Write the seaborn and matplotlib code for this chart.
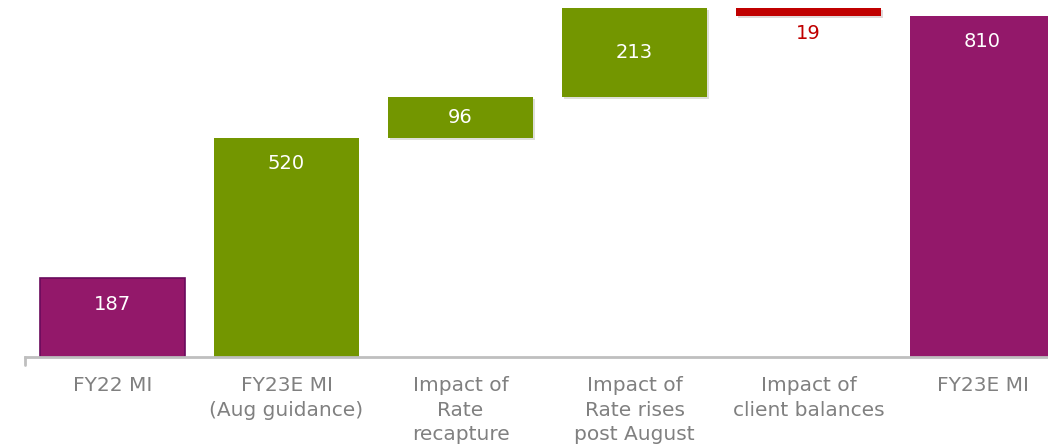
import numpy as np
import pandas as pd
import matplotlib
matplotlib.use("Agg")
import matplotlib.pyplot as plt
import matplotlib.patheffects as pe
import seaborn as sns

# Waterfall steps
categories = ["FY22 MI", "FY23E MI\n(Aug guidance)", "Impact of\nRate\nrecapture",
              "Impact of\nRate rises\npost August", "Impact of\nclient balances", "FY23E MI"]
values = [187, 520, 96, 213, -19, 810]
kinds = ["total", "total", "delta", "delta", "delta", "total"]

PURPLE = "#93186A"
GREEN = "#739600"
RED = "#C00000"
GREY = "#808080"

# Bar bases: totals stand on zero, deltas float on the running sum
bases = []
running = 0
for v, k in zip(values, kinds):
    if k == "total":
        bases.append(0)
        running = v
    else:
        bases.append(running)
        running += v

colors = []
for i, (v, k) in enumerate(zip(values, kinds)):
    if i in (0, len(values) - 1):
        colors.append(PURPLE)
    elif v < 0:
        colors.append(RED)
    else:
        colors.append(GREEN)

df = pd.DataFrame({"step": categories, "value": values})

sns.set_theme(style="white")
plt.rcParams["font.family"] = ["DejaVu Sans"]

fig = plt.figure(figsize=(10.48, 4.48), dpi=100)
ax = fig.add_axes([25 / 1048, 91 / 448, 1023 / 1048, 357 / 448])

sns.barplot(data=df, x="step", y="value", hue="step", palette=colors,
            width=0.833, legend=False, ax=ax, saturation=1)

for i, patch in enumerate(ax.patches[:len(values)]):
    patch.set_y(bases[i])
    patch.set_height(values[i])
    patch.set_linewidth(0)
    if kinds[i] == "delta":
        patch.set_path_effects([pe.SimplePatchShadow(offset=(1.2, -1.5), alpha=0.15, rho=0.3),
                                pe.Normal()])
    if i == 0:
        patch.set_edgecolor("#6A0A5C")
        patch.set_linewidth(1.2)

# Value labels
for i, (v, k) in enumerate(zip(values, kinds)):
    top = bases[i] + v
    if k == "total":
        ax.annotate(f"{abs(v)}", (i, top), xytext=(0, -26), textcoords="offset pixels",
                    ha="center", va="center", color="white", fontsize=14)
    elif v < 0:
        ax.annotate(f"{abs(v)}", (i, top), xytext=(0, -18), textcoords="offset pixels",
                    ha="center", va="center", color=RED, fontsize=14)
    else:
        ax.text(i, bases[i] + v / 2, f"{v}", ha="center", va="center",
                color="white", fontsize=14)

ax.set_xlim(-0.503, 5.376)
ax.set_ylim(0, 847)
ax.set_xlabel("")
ax.set_ylabel("")
ax.set_yticks([])

for side in ("top", "right", "left"):
    ax.spines[side].set_visible(False)
ax.spines["bottom"].set_color("#BFBFBF")
ax.spines["bottom"].set_linewidth(2)
# small end tick at the left of the baseline
ax.plot([0, 0], [0, -0.022], transform=ax.transAxes, color="#BFBFBF", lw=2, clip_on=False)

ax.tick_params(axis="x", length=0, pad=14, labelsize=14.5, labelcolor=GREY)
for lbl in ax.get_xticklabels():
    lbl.set_linespacing(1.36)
    lbl.set_verticalalignment("top")

fig.savefig("out.png", dpi=100)
